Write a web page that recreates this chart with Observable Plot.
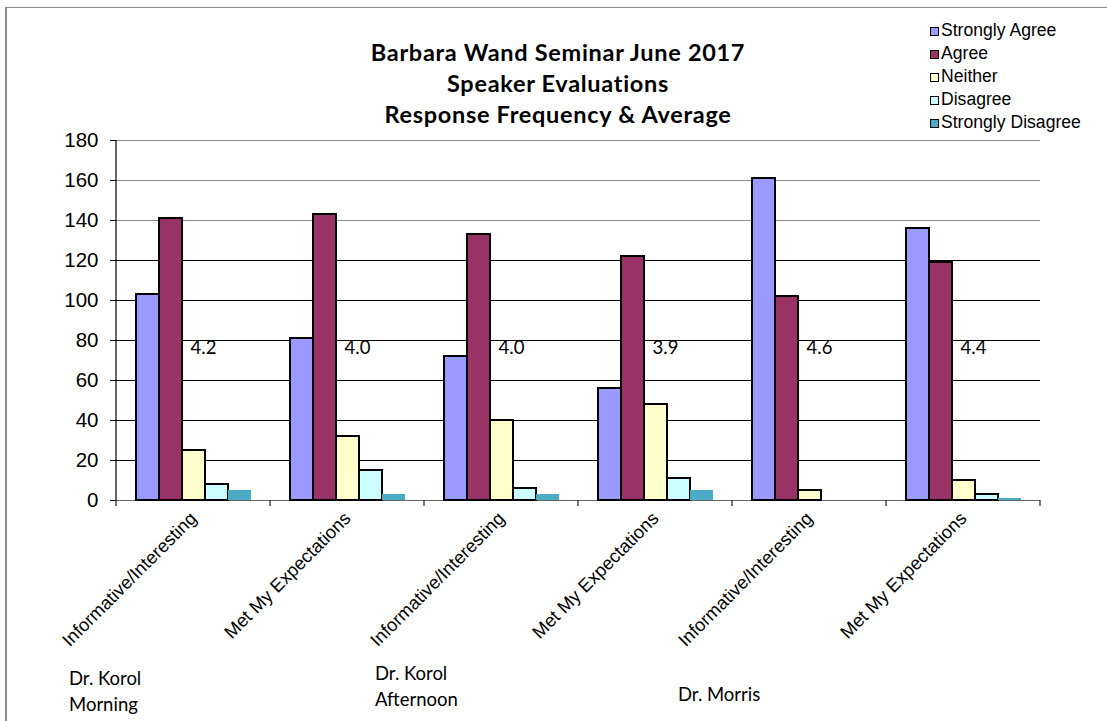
<!DOCTYPE html>
<html>
<head>
<meta charset="utf-8">
<script src="https://cdn.jsdelivr.net/npm/d3@7"></script>
<script src="https://cdn.jsdelivr.net/npm/@observablehq/plot@0.6"></script>
<style>
  body { margin: 0; background: #fff; }
  #chart { position: relative; width: 1107px; height: 721px; overflow: hidden; }
  #chart svg { position: absolute; left: 0; top: 0; }
  #frame { position: absolute; left: 5px; top: 7px; width: 1200px; height: 800px;
           border-left: 2px solid #8a8a8a; border-top: 1px solid #8a8a8a; }
  #title { position: absolute; left: 308px; width: 500px; top: 37px; text-align: center;
           font: bold 23.5px Lato, "Open Sans", sans-serif; letter-spacing: 0.7px;
           line-height: 31px; color: #000; }
  #legend { position: absolute; left: 930px; top: 19px;
            font: 17.6px "Liberation Sans", Arial, sans-serif; line-height: 23px; color: #000; }
  #legend .item { display: flex; align-items: center; height: 23px; white-space: nowrap; }
  #legend .sw { width: 7px; height: 7px; border: 1px solid #000; margin-right: 2px; margin-top: 2px; }
  .speaker { position: absolute; font: 18.5px Lato, sans-serif; line-height: 26.5px; color: #000; }
</style>
</head>
<body>
<div id="chart">
  <div id="frame"></div>
  <div id="title"></div>
  <div id="legend"></div>
</div>
<script>
// Survey responses per speaker/question group
const groups = [0, 1, 2, 3, 4, 5];
const questions = [
  "Informative/Interesting", "Met My Expectations",
  "Informative/Interesting", "Met My Expectations",
  "Informative/Interesting", "Met My Expectations"
];
const series = ["Strongly Agree", "Agree", "Neither", "Disagree", "Strongly Disagree"];
const stronglyAgree    = [103, 81, 72, 56, 161, 136];
const agree            = [141, 143, 133, 122, 102, 119];
const neither          = [25, 32, 40, 48, 5, 10];
const disagree         = [8, 15, 6, 11, 0, 3];
const stronglyDisagree = [5, 3, 3, 5, 0, 1];
const averages = ["4.2", "4.0", "4.0", "3.9", "4.6", "4.4"];
const yTicks = [0, 20, 40, 60, 80, 100, 120, 140, 160, 180];
const colors = ["#9999FF", "#993366", "#FFFFCC", "#CCFFFF", "#4BACC6"];
const titleLines = ["Barbara Wand Seminar June 2017", "Speaker Evaluations", "Response Frequency & Average"];
const speakers = [
  { lines: ["Dr. Korol", "Morning"], left: 69, top: 664.6 },
  { lines: ["Dr. Korol", "Afternoon"], left: 375, top: 659.6 },
  { lines: ["Dr. Morris"], left: 678, top: 681.3 }
];

const valuesBySeries = [stronglyAgree, agree, neither, disagree, stronglyDisagree];
const rows = [];
groups.forEach(g => series.forEach((s, j) => {
  const v = valuesBySeries[j][g];
  if (v > 0) rows.push({ g, s, v });
}));

const labelFont = "'Liberation Sans', Arial, sans-serif";

const plot = Plot.plot({
  width: 1107,
  height: 721,
  marginLeft: 115,
  marginRight: 66,
  marginTop: 140,
  marginBottom: 221,
  style: { fontFamily: labelFont, background: "transparent", color: "#000" },
  fx: { domain: groups, padding: 0, label: null },
  x: { domain: series, paddingInner: 0, paddingOuter: 0.74, axis: null },
  y: { domain: [0, 180], label: null },
  color: { domain: series, range: colors },
  marks: [
    Plot.ruleY(yTicks.filter(v => v > 0 && v < 140), { stroke: "#000", strokeWidth: 1 }),
    Plot.ruleY(yTicks.filter(v => v >= 140), { stroke: "#8a8a8a", strokeWidth: 1.2 }),
    Plot.ruleY([0], { stroke: "#666", strokeWidth: 1.2 }),
    Plot.barY(rows.filter(d => d.s !== "Strongly Disagree"), {
      fx: "g", x: "s", y: "v", fill: "s", stroke: "#000", strokeWidth: 2
    }),
    Plot.barY(rows.filter(d => d.s === "Strongly Disagree"), {
      fx: "g", x: "s", y: "v", fill: "s"
    }),
    Plot.text(groups, {
      fx: d => d, text: d => averages[d], frameAnchor: "bottom",
      dx: 10, dy: -147, fontSize: 18.5, fontFamily: "Lato, sans-serif", fill: "#000"
    }),
    Plot.axisY({
      ticks: yTicks, tickSize: 6, tickPadding: 12, fontSize: 20.5, label: null,
      fontFamily: labelFont
    }),
    Plot.axisFx({
      anchor: "bottom", tickRotate: -45, tickSize: 0, tickPadding: 15, fontSize: 18.3,
      label: null, tickFormat: i => questions[i], fontFamily: labelFont
    })
  ]
});

// Vertical axis line and group-boundary ticks, placed with the plot's own scales
const fxScale = plot.scale("fx");
const yScale = plot.scale("y");
const edges = groups.map(g => fxScale.apply(g));
edges.push(fxScale.apply(groups[groups.length - 1]) + fxScale.bandwidth);
const y0 = yScale.apply(0), yTop = yScale.apply(180);
const deco = d3.select(plot).append("g").attr("stroke", "#222").attr("stroke-width", 1.2);
deco.append("line").attr("x1", edges[0]).attr("x2", edges[0]).attr("y1", yTop).attr("y2", y0)
  .attr("stroke", "#000");
edges.forEach(x => deco.append("line").attr("x1", x).attr("x2", x).attr("y1", y0).attr("y2", y0 + 6));

const chart = document.getElementById("chart");
chart.appendChild(plot);

// Title
const title = document.getElementById("title");
titleLines.forEach(t => { const d = document.createElement("div"); d.textContent = t; title.appendChild(d); });

// Legend
const legend = document.getElementById("legend");
series.forEach((s, i) => {
  const item = document.createElement("div");
  item.className = "item";
  const sw = document.createElement("span");
  sw.className = "sw";
  sw.style.background = colors[i];
  const label = document.createElement("span");
  label.textContent = s;
  item.appendChild(sw);
  item.appendChild(label);
  legend.appendChild(item);
});

// Speaker labels under the category axis
speakers.forEach(sp => {
  const d = document.createElement("div");
  d.className = "speaker";
  d.style.left = sp.left + "px";
  d.style.top = sp.top + "px";
  d.innerHTML = sp.lines.join("<br>");
  chart.appendChild(d);
});
</script>
</body>
</html>
